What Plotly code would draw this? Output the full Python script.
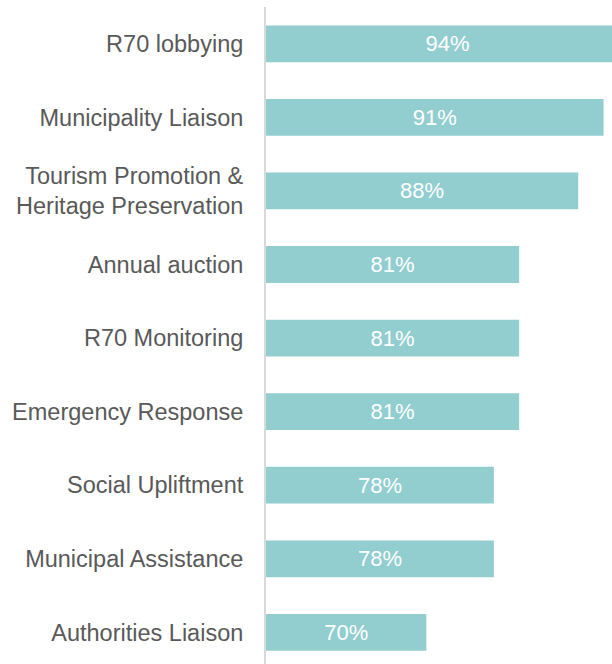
import plotly.graph_objects as go

# services rated (top to bottom) and share of respondents
services = [
    "R70 lobbying",
    "Municipality Liaison",
    "Tourism Promotion &<br>Heritage Preservation",
    "Annual auction",
    "R70 Monitoring",
    "Emergency Response",
    "Social Upliftment",
    "Municipal Assistance",
    "Authorities Liaison",
]
pct = [94, 91, 88, 81, 81, 81, 78, 78, 70]
labels = [f"{v}%" for v in pct]

# value axis does not start at zero in the original; bars grow from the axis minimum
x_min, x_max = 51, 92

fig = go.Figure()
fig.add_trace(go.Bar(
    y=services, orientation="h",
    base=x_min, x=[v - x_min for v in pct],
    marker=dict(color="#92CECF", line=dict(width=0)),
    text=labels, textposition="inside", insidetextanchor="middle",
    textfont=dict(color="white", size=22, family="Arial, Liberation Sans"),
    constraintext="none",
))

fig.update_layout(
    width=612, height=664,
    margin=dict(l=266, r=0, t=7, b=0),
    plot_bgcolor="white", paper_bgcolor="white",
    bargap=0.5, showlegend=False,
    font=dict(family="Arial, Liberation Sans", color="#595959"),
)
fig.update_xaxes(range=[x_min, x_max], visible=False)
fig.update_yaxes(
    range=[8.43, -0.5], categoryorder="array", categoryarray=services,
    showline=True, linecolor="#D9D9D9", linewidth=2,
    ticks="", ticklabelstandoff=16, showgrid=False,
    tickfont=dict(size=23.5, color="#595959"),
)

fig.write_html("out.html", config={"displayModeBar": False},
               post_script="document.body.style.margin='0';")
